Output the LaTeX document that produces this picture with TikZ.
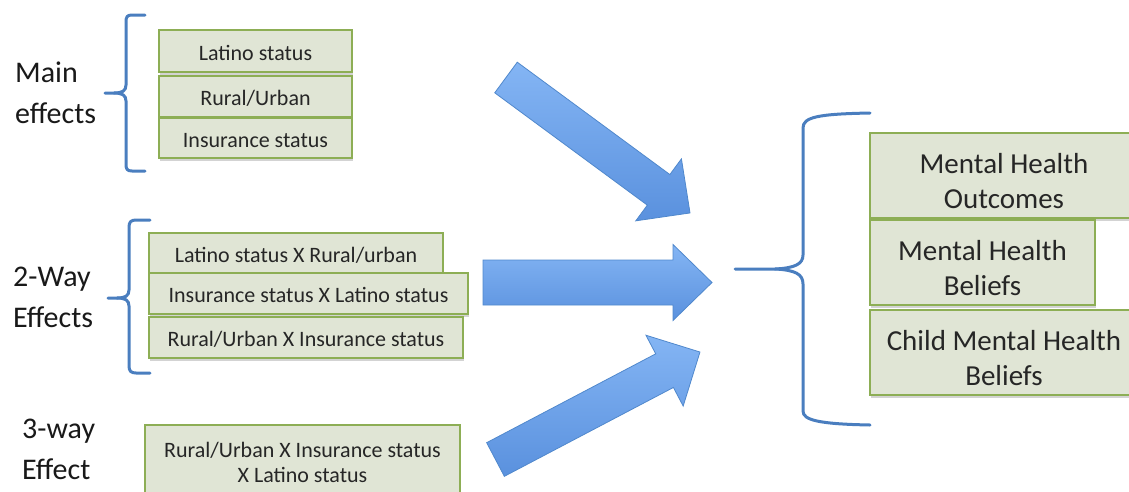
\documentclass[tikz,border=0pt]{standalone}
\usepackage{fontspec}
\setmainfont{Carlito}
\usetikzlibrary{shadows}
\definecolor{boxfill}{HTML}{E0E5D5}
\definecolor{boxline}{HTML}{8DAE55}
\definecolor{bracecol}{HTML}{4A7EBF}
\definecolor{arrowtop}{HTML}{84B5F4}
\definecolor{arrowbot}{HTML}{5A91DE}
\definecolor{arrowline}{HTML}{5088CC}
\definecolor{ink}{HTML}{262626}
% invisible strut that lowers the text block inside a box
\newcommand\lowerby[1]{\rule{0pt}{#1}}
\begin{document}
\begin{tikzpicture}[x=1pt,y=-1pt,
  factor/.style={draw=boxline, line width=2pt, fill=boxfill, text=ink, inner sep=0pt,
    align=center, drop shadow={opacity=0.35, shadow xshift=1pt, shadow yshift=-2.5pt}},
  small/.style={factor, font=\fontsize{22}{25}\selectfont},
  large/.style={factor, font=\fontsize{29}{35}\selectfont, minimum height=85pt},
  group/.style={anchor=west, align=left, inner sep=0pt, text=black!90,
    font=\fontsize{30}{41}\selectfont},
  brace/.style={draw=bracecol, line width=3pt, line cap=round, line join=round},
  fat/.style={draw=arrowline, line width=0.8pt, top color=arrowtop, bottom color=arrowbot},
  pics/blockarrow/.style args={#1/#2/#3/#4}{code={
    \path[fat] (0,-#2) -- ({#1-#4},-#2) -- ({#1-#4},-#3) -- (#1,0)
      -- ({#1-#4},#3) -- ({#1-#4},#2) -- (0,#2) -- cycle;}}
]
\useasboundingbox (0,0) rectangle (1129,491);

% group labels
\node[group] (main)  at (15,93)  {Main\\effects};
\node[group] (two)   at (13,297) {2-Way\\Effects};
\node[group] (three) at (22,449) {3-way\\Effect};

% braces
\draw[brace] (145,15) -- (132,15) .. controls (127,15) and (126,17) .. (126,22) -- (126,85)
  .. controls (126,91) and (122,93) .. (114,93) -- (105,93);
\draw[brace] (114,93) .. controls (122,93) and (126,95) .. (126,101) -- (126,164)
  .. controls (126,169) and (127,171) .. (132,171) -- (145,171);

\draw[brace] (150,220) -- (136,220) .. controls (131,220) and (129,222) .. (129,227) -- (129,290)
  .. controls (129,296) and (125,298) .. (117,298) -- (108,298);
\draw[brace] (117,298) .. controls (125,298) and (129,300) .. (129,306) -- (129,366)
  .. controls (129,371) and (131,373) .. (136,373) -- (150,373);

\draw[brace] (870,113) .. controls (818,114) and (803,117) .. (803,128) -- (803,255)
  .. controls (803,264) and (795,268) .. (775,269) -- (735,269);
\draw[brace] (775,269) .. controls (795,270) and (803,274) .. (803,284) -- (803,411)
  .. controls (803,420) and (818,424) .. (870,425);

% main effects
\node[small, minimum width=193pt, minimum height=42pt] (lat) at (255.5,51)  {\lowerby{19pt}Latino status};
\node[small, minimum width=193pt, minimum height=41pt] (rur) at (255.5,96.5) {\lowerby{19pt}Rural/Urban};
\node[small, minimum width=193pt, minimum height=40pt] (ins) at (255.5,138) {\lowerby{19pt}Insurance status};

% two-way interactions
\node[small, minimum width=294pt, minimum height=40pt] (lr) at (296,253)    {\lowerby{19pt}Latino status X Rural/urban};
\node[small, minimum width=319pt, minimum height=41pt] (il) at (308.5,293.5) {\lowerby{19pt}Insurance status X Latino status};
\node[small, minimum width=314pt, minimum height=41pt] (ri) at (306,337.5)  {\lowerby{19pt}Rural/Urban X Insurance status};

% three-way interaction
\node[small, minimum width=315pt, minimum height=72pt] (ril) at (302.5,461)
  {\lowerby{19pt}Rural/Urban X Insurance status\\X Latino status};

% outcomes
\node[large, minimum width=268pt] (mho) at (1004,175.5)  {\lowerby{32pt}Mental Health\\Outcomes};
\node[large, minimum width=225pt] (mhb) at (982.5,262.5) {\lowerby{32pt}Mental Health\\Beliefs};
\node[large, minimum width=268pt] (cmh) at (1004,352.5)  {\lowerby{32pt}Child Mental Health\\Beliefs};

% block arrows
\coordinate (t1) at (506,77.5);
\coordinate (t2) at (483,282.5);
\coordinate (t3) at (495.5,459.5);
\pic[rotate=-36.36] at (t1) {blockarrow=228.5/19/38.5/39};
\pic at (t2) {blockarrow=229/22.5/38/39};
\pic[rotate=27.73] at (t3) {blockarrow=231/19/40/40};
\end{tikzpicture}
\end{document}
